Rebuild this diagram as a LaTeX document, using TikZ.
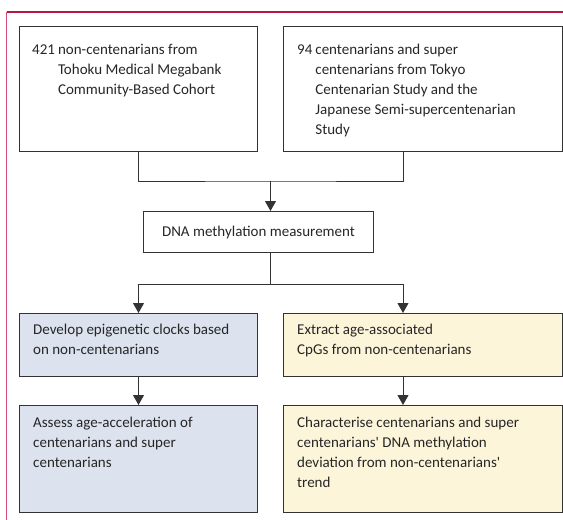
\documentclass[tikz,border=0pt]{standalone}
\usepackage{fontspec}
\setmainfont{Carlito}
\newfontfamily\nomapfont{Carlito}[Ligatures=TeXOff]
\usetikzlibrary{arrows.meta}
\definecolor{frameTop}{HTML}{B8183F}
\definecolor{frameLeft}{HTML}{D9487A}
\definecolor{edge}{HTML}{333333}
\definecolor{bluefill}{HTML}{DCE2EE}
\definecolor{yellowfill}{HTML}{FDF5DA}
\newcommand{\sq}{{\nomapfont'}}
\tikzset{
  box/.style={draw=edge, line width=1pt, inner sep=0pt, anchor=north west},
  txt/.style={inner sep=0pt, anchor=north west, align=left, text=black!85,
              font=\fontsize{15}{20}\selectfont},
  conn/.style={draw=edge, line width=1pt},
  arr/.style={conn, -{Triangle[width=11pt,length=10pt]}}
}
\begin{document}
\begin{tikzpicture}[x=1pt,y=-1pt]
\useasboundingbox (0,0) rectangle (563,520);
% frame
\draw[frameTop, line width=1.2pt] (6.5,12) -- (563,12);
\draw[frameLeft, line width=1.2pt] (6.5,12) -- (6.5,520);
% boxes
\node[box, minimum width=238pt, minimum height=125pt] (a) at (19,26) {};
\node[box, minimum width=279pt, minimum height=125pt] (b) at (283,26) {};
\node[box, minimum width=230pt, minimum height=41pt] (m) at (143,211) {};
\node[box, fill=bluefill, minimum width=238pt, minimum height=63pt] (c) at (19,313) {};
\node[box, fill=yellowfill, minimum width=279pt, minimum height=63pt] (d) at (283,313) {};
\node[box, fill=bluefill, minimum width=238pt, minimum height=107pt] (e) at (19,405) {};
\node[box, fill=yellowfill, minimum width=279pt, minimum height=107pt] (f) at (283,405) {};
% texts
\node[txt] (ta) at ([shift={(13,14)}]a.north west) {%
  \begin{tabular}{@{}l@{\hspace{3pt}}l@{}}421 & non-centenarians from\\ & Tohoku Medical Megabank\\ & Community-Based Cohort\end{tabular}};
\node[txt] (tb) at ([shift={(14,14)}]b.north west) {%
  \begin{tabular}{@{}l@{\hspace{3pt}}l@{}}94 & centenarians and super\\ & centenarians from Tokyo\\ & Centenarian Study and the\\ & Japanese Semi-supercentenarian\\ & Study\end{tabular}};
\node[txt, anchor=center] (tm) at (m.center) {DNA methylation measurement};
\node[txt] (tc) at ([shift={(14,11)}]c.north west) {Develop epigenetic clocks based\\on non-centenarians};
\node[txt] (td) at ([shift={(14,11)}]d.north west) {Extract age-associated\\CpGs from non-centenarians};
\node[txt] (te) at ([shift={(14,12)}]e.north west) {Assess age-acceleration of\\centenarians and super\\centenarians};
\node[txt] (tf) at ([shift={(14,12)}]f.north west) {Characterise centenarians and super\\centenarians\sq\ DNA methylation\\deviation from non-centenarians\sq\\trend};
% connectors
\coordinate (bs) at ([xshift=120pt]b.south west);
\coordinate (ds) at ([xshift=120pt]d.south west);
\coordinate (dn) at ([xshift=120pt]d.north west);
\coordinate (fn) at ([xshift=120pt]f.north west);
\coordinate (j1) at (270.5,181);
\coordinate (j2) at (270.5,284);
\draw[conn] (a.south) |- (j1) -| (bs);
\draw[arr] (j1) -- (j1 |- m.north);
\draw[conn] (j2 |- m.south) -- (j2);
\draw[arr] (j2) -| (c.north);
\draw[arr] (j2) -| (dn);
\draw[arr] (c.south) -- (e.north);
\draw[arr] (ds) -- (fn);
\end{tikzpicture}
\end{document}
